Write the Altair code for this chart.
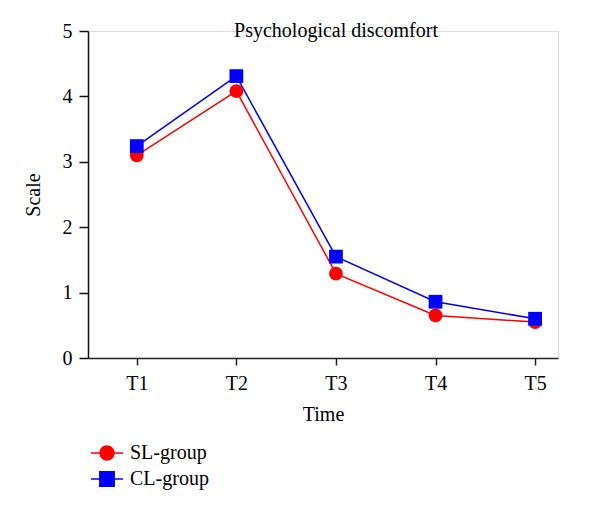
import json
import altair as alt
import pandas as pd

times = ["T1", "T2", "T3", "T4", "T5"]
time_idx = [1, 2, 3, 4, 5]
sl_values = [3.10, 4.08, 1.29, 0.65, 0.55]
cl_values = [3.24, 4.31, 1.55, 0.86, 0.60]
groups = ["SL-group", "CL-group"]
colors = ["#ff0000", "#0000ff"]
chart_title = "Psychological discomfort"
x_title = "Time"
y_title = "Scale"

FONT = "Liberation Serif"
FS = 20

df = pd.DataFrame({
    "t": time_idx * 2,
    "value": sl_values + cl_values,
    "group": [groups[0]] * 5 + [groups[1]] * 5,
})

x_enc = alt.X("t:Q", scale=alt.Scale(domain=[0.51, 5.23], nice=False, zero=False),
              axis=alt.Axis(values=time_idx, labelExpr=f"{json.dumps(times)}[datum.value-1]",
                            title=x_title, grid=False, tickSize=7, labelPadding=8,
                            titlePadding=11, labelFontSize=FS, titleFontSize=FS,
                            labelFont=FONT, titleFont=FONT, titleFontWeight="normal",
                            domainColor="#222", tickColor="#222", domainWidth=1.5,
                            tickWidth=1.5, labelColor="black", titleColor="black"))
y_enc = alt.Y("value:Q", scale=alt.Scale(domain=[0, 5], nice=False),
              axis=alt.Axis(values=[0, 1, 2, 3, 4, 5], title=y_title, grid=False,
                            tickSize=9, labelPadding=7, titlePadding=19,
                            labelFontSize=FS, titleFontSize=FS, labelFont=FONT,
                            titleFont=FONT, titleFontWeight="normal",
                            domainColor="#111", tickColor="#111", domainWidth=1.5,
                            tickWidth=1.5, labelColor="black", titleColor="black"))

base = alt.Chart(df)
layers = []
shapes = ["circle", "square"]
for g, c, s in zip(groups, colors, shapes):
    sub = base.transform_filter(alt.datum.group == g)
    layers.append(sub.mark_line(color=c, strokeWidth=1.5).encode(x=x_enc, y=y_enc))
for g, c, s in zip(groups, colors, shapes):
    sub = base.transform_filter(alt.datum.group == g)
    layers.append(sub.mark_point(color=c, shape=s, filled=True, opacity=1, size=190)
                  .encode(x=x_enc, y=y_enc))

circle_path = "M-2,0H2M-0.875,0A0.875,0.875,0,1,1,0.875,0A0.875,0.875,0,1,1,-0.875,0Z"
square_path = "M-2,0H2M-0.9,-0.9H0.9V0.9H-0.9Z"

legend = alt.Legend(title=None, orient="none", legendX=9, legendY=412, padding=0,
                    labelFont=FONT, labelFontSize=FS, labelColor="black",
                    labelOffset=13, rowPadding=5, symbolSize=256,
                    symbolStrokeWidth=1.5, symbolOpacity=1)

legend_layer = base.mark_point(opacity=0, filled=True, size=0).encode(
    x=x_enc, y=y_enc,
    shape=alt.Shape("group:N", scale=alt.Scale(domain=groups, range=[circle_path, square_path]), legend=legend),
    fill=alt.Fill("group:N", scale=alt.Scale(domain=groups, range=colors), legend=legend),
    stroke=alt.Stroke("group:N", scale=alt.Scale(domain=groups, range=colors), legend=legend),
)
layers.append(legend_layer)

title_layer = alt.Chart(alt.Data(values=[{"label": chart_title}])).mark_text(
    font=FONT, fontSize=FS, baseline="middle", align="center", color="black"
).encode(x=alt.value(248), y=alt.value(0), text="label:N")
layers.append(title_layer)

chart = alt.layer(*layers).properties(
    width=470, height=327,
    autosize=alt.AutoSizeParams(type="none"),
    padding={"left": 80, "top": 23, "right": 30, "bottom": 140},
).configure_view(stroke=None).configure(background="white")

chart.save("out.html", embed_options={"renderer": "svg", "actions": False})
